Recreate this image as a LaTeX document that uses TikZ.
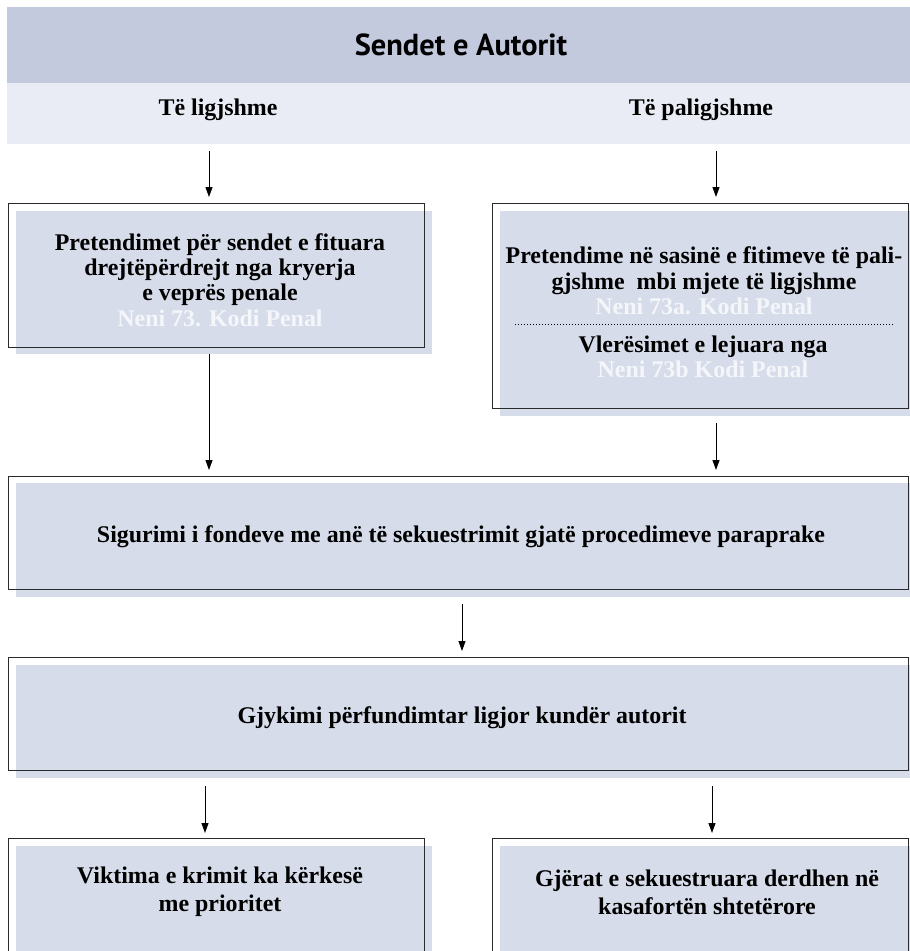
\documentclass[tikz,border=0pt]{standalone}
\usepackage{fontspec}
\setmainfont{Liberation Serif}
\newfontfamily\hdrfont{PT Sans}
\usetikzlibrary{arrows.meta}
\definecolor{hdrdark}{HTML}{C3CADD}
\definecolor{hdrlight}{HTML}{E9ECF5}
\definecolor{boxfill}{HTML}{D6DCEA}
\definecolor{linecol}{HTML}{2B2B2B}
\definecolor{refcol}{HTML}{F4F6FA}
\begin{document}
\begin{tikzpicture}[x=1bp,y=-1bp,
  band/.style={draw=none, inner sep=0, outer sep=0, anchor=north west},
  fillbox/.style={draw=none, fill=boxfill, inner sep=0, outer sep=0, anchor=north west},
  outbox/.style={draw=linecol, line width=1.2bp, inner sep=0, anchor=north west},
  txt/.style={font=\fontsize{24}{25.5}\selectfont\bfseries, align=center, inner sep=0},
  hdr/.style={font=\hdrfont\fontsize{30.5}{32}\selectfont\bfseries, inner sep=0},
  arr/.style={-{Triangle[length=10bp,width=7bp]}, line width=1bp, draw=black}]
\useasboundingbox (0,0) rectangle (910,951);
\clip (0,0) rectangle (910,951);
% header bands
\node[band, fill=hdrdark, minimum width=910bp, minimum height=76bp] (dark) at (7,7) {};
\node[band, fill=hdrlight, minimum width=910bp, minimum height=61bp] (light) at (7,83) {};
\node[hdr] (title) at (461,45) {Sendet e Autorit};
\node[txt] (lig) at (218,110) {Të ligjshme};
\node[txt] (palig) at (701,110) {Të paligjshme};
% fills
\node[fillbox, minimum width=416bp, minimum height=143bp] (b1f) at (16,211) {};
\node[fillbox, minimum width=416bp, minimum height=205bp] (b2f) at (500,211) {};
\node[fillbox, minimum width=900bp, minimum height=114bp] (b3f) at (16,483) {};
\node[fillbox, minimum width=900bp, minimum height=113bp] (b4f) at (16,665) {};
\node[fillbox, minimum width=416bp, minimum height=130bp] (b5f) at (16,846) {};
\node[fillbox, minimum width=416bp, minimum height=130bp] (b6f) at (500,846) {};
% outlines
\node[outbox, minimum width=416bp, minimum height=144bp] (b1) at (8,203) {};
\node[outbox, minimum width=416bp, minimum height=205bp] (b2) at (492,203) {};
\node[outbox, minimum width=900bp, minimum height=113bp] (b3) at (8,476) {};
\node[outbox, minimum width=900bp, minimum height=113bp] (b4) at (8,657) {};
\node[outbox, minimum width=416bp, minimum height=140bp] (b5) at (8,838) {};
\node[outbox, minimum width=416bp, minimum height=140bp] (b6) at (492,838) {};
% texts
\node[txt] (t1) at (220,280) {Pretendimet për sendet e fituara\\drejtëpërdrejt nga kryerja\\e veprës penale\\{\color{refcol}Neni 73. Kodi Penal}};
\node[txt] (t2a) at (704,281) {Pretendime në sasinë e fitimeve të pali-\\gjshme\ \ mbi mjete të ligjshme\\{\color{refcol}Neni 73a. Kodi Penal}};
\coordinate (dotL) at (515,324);
\coordinate (dotR) at (893,324);
\draw[dotted, line width=1bp] (dotL) -- (dotR);
\node[txt] (t2b) at (703,357) {Vlerësimet e lejuara nga\\{\color{refcol}Neni 73b Kodi Penal}};
\node[txt] (t3) at (461,537) {Sigurimi i fondeve me anë të sekuestrimit gjatë procedimeve paraprake};
\node[txt] (t4) at (462,718) {Gjykimi përfundimtar ligjor kundër autorit};
\node[txt, font=\fontsize{24}{28}\selectfont\bfseries] (t5) at (220,892) {Viktima e krimit ka kërkesë\\me prioritet};
\node[txt, font=\fontsize{24}{28}\selectfont\bfseries] (t6) at (707,892) {Gjërat e sekuestruara derdhen në\\kasafortën shtetërore};
% columns
\coordinate (cL) at (209,0);
\coordinate (cR) at (716,0);
\coordinate (cM) at (462,0);
\coordinate (cL2) at (205,0);
\coordinate (cR2) at (712,0);
% arrows
\draw[arr, shorten <=7bp, shorten >=6bp] (cL |- light.south) -- (cL |- b1.north);
\draw[arr, shorten <=7bp, shorten >=6bp] (cR |- light.south) -- (cR |- b2.north);
\draw[arr, shorten >=6bp] (cL |- b1f.south) -- (cL |- b3.north);
\draw[arr, shorten <=7bp, shorten >=6bp] (cR |- b2f.south) -- (cR |- b3.north);
\draw[arr, shorten <=7bp, shorten >=6bp] (cM |- b3f.south) -- (cM |- b4.north);
\draw[arr, shorten <=8bp, shorten >=5bp] (cL2 |- b4f.south) -- (cL2 |- b5.north);
\draw[arr, shorten <=8bp, shorten >=5bp] (cR2 |- b4f.south) -- (cR2 |- b6.north);
\end{tikzpicture}
\end{document}
